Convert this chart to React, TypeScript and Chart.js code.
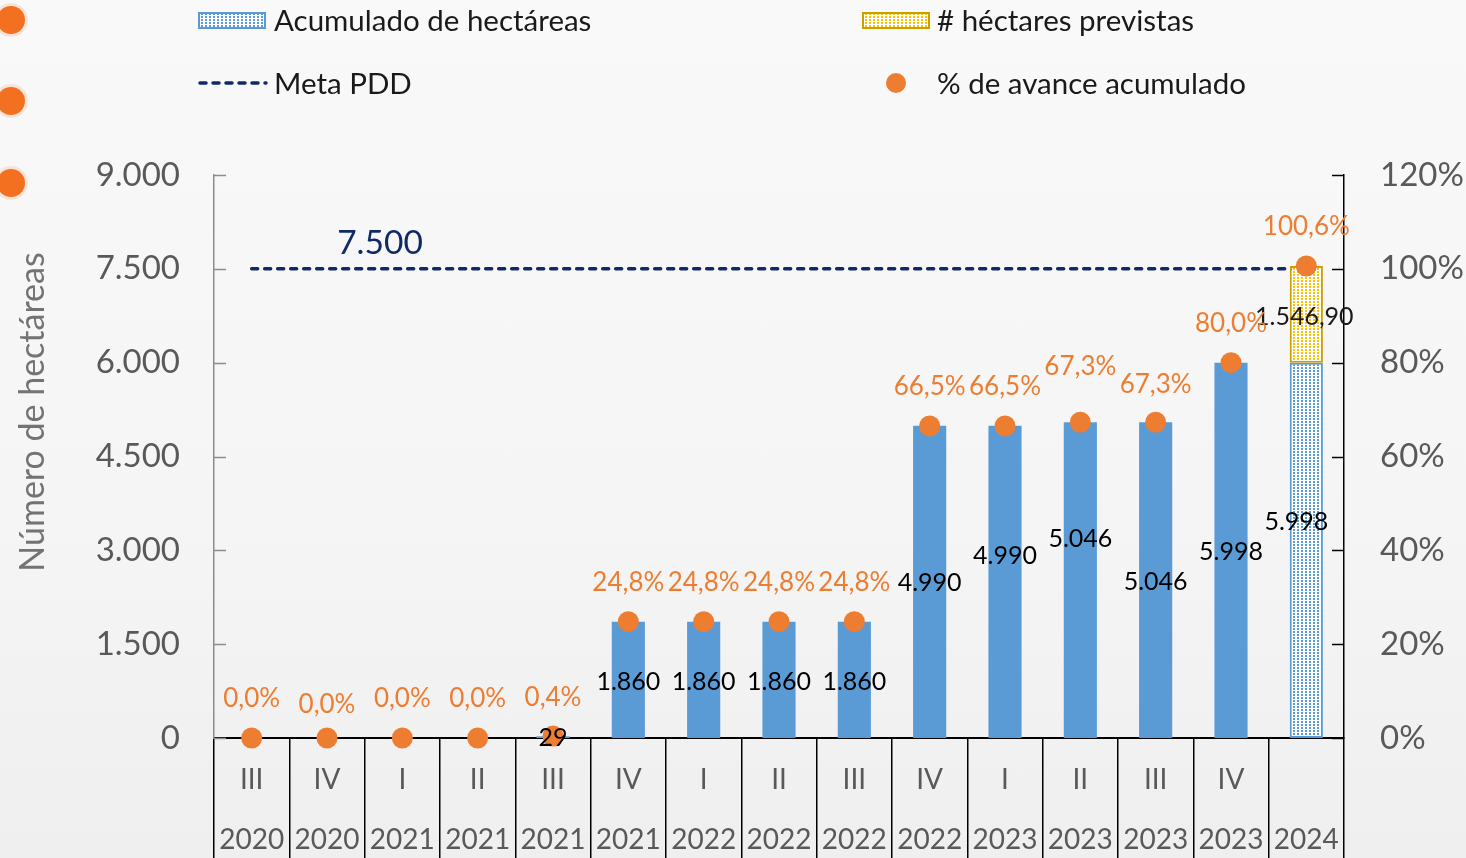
import React, { useEffect, useRef } from 'react';
import { Chart, registerables } from 'chart.js';

Chart.register(...registerables);

// ---------- data ----------
const quarters = ['III', 'IV', 'I', 'II', 'III', 'IV', 'I', 'II', 'III', 'IV', 'I', 'II', 'III', 'IV', ''];
const years = ['2020', '2020', '2021', '2021', '2021', '2021', '2022', '2022', '2022', '2022', '2023', '2023', '2023', '2023', '2024'];
const hectareas = [0, 0, 0, 0, 29, 1860, 1860, 1860, 1860, 4990, 4990, 5046, 5046, 5998, 5998];
const previstas = [null, null, null, null, null, null, null, null, null, null, null, null, null, null, 1546.9];
const avance = [0, 0, 0, 0, 0.4, 24.8, 24.8, 24.8, 24.8, 66.5, 66.5, 67.3, 67.3, 80.0, 100.6];
const metaPDD = [7500, 7500, 7500, 7500, 7500, 7500, 7500, 7500, 7500, 7500, 7500, 7500, 7500, 7500, 7500];
const leftTicks = [0, 1500, 3000, 4500, 6000, 7500, 9000];
const rightTicks = [0, 20, 40, 60, 80, 100, 120];

// label nudges (pixels) for the data labels, as placed in the original
const barLabelDy = [0, 0, 0, 0, 2, 60, 60, 60, 60, 157, 130, 117, 160, 189, 159];
const barLabelDx = [0, 0, 0, 0, 0, 0, 0, 0, 0, 0, 0, 0, 0, 0, -10];
const pctLabelDy = [-39, -33, -39, -39, -39, -39, -39, -39, -39, -39, -39, -56, -38, -39, -39];

const FONT = 'Lato, "Open Sans", sans-serif';
const BLUE = '#5B9BD5';
const ORANGE = '#ED7D31';
const NAVY = '#0F2A66';
const GOLD = '#C9A000';
const YELLOW = '#FFC000';
const GRAY = '#595959';

function fmtThousands(v: number): string {
  const s = Math.round(v).toString();
  return s.replace(/\B(?=(\d{3})+(?!\d))/g, '.');
}
function fmtDec2(v: number): string {
  const int = Math.floor(v);
  const dec = Math.round((v - int) * 100).toString().padStart(2, '0');
  return fmtThousands(int) + ',' + dec;
}
function fmtPct(v: number): string {
  return v.toFixed(1).replace('.', ',') + '%';
}

function makePattern(ctx: CanvasRenderingContext2D, color: string): CanvasPattern {
  const tile = document.createElement('canvas');
  tile.width = 4;
  tile.height = 3;
  const t = tile.getContext('2d')!;
  t.fillStyle = '#ffffff';
  t.fillRect(0, 0, 4, 3);
  t.fillStyle = color;
  t.fillRect(1, 1, 2, 2);
  return ctx.createPattern(tile, 'repeat')!;
}

export default function App() {
  const ref = useRef<HTMLCanvasElement | null>(null);

  useEffect(() => {
    const canvas = ref.current!;
    const ctx0 = canvas.getContext('2d')!;
    const bluePat = makePattern(ctx0, BLUE);
    const yellowPat = makePattern(ctx0, YELLOW);

    const overlay = {
      id: 'overlay',
      afterDraw(chart: any) {
        const ctx: CanvasRenderingContext2D = chart.ctx;
        const xs = chart.scales.x;
        const ys = chart.scales.y;
        const ys1 = chart.scales.y1;
        const { left, right, bottom } = chart.chartArea;
        ctx.save();

        // tick marks (inside)
        ctx.lineWidth = 1.5;
        ctx.strokeStyle = '#8c8c8c';
        leftTicks.forEach((v) => {
          const y = Math.round(ys.getPixelForValue(v)) + 0.5;
          ctx.beginPath();
          ctx.moveTo(left, y);
          ctx.lineTo(left + 12, y);
          ctx.stroke();
        });
        ctx.strokeStyle = '#000';
        rightTicks.forEach((v) => {
          const y = Math.round(ys1.getPixelForValue(v)) + 0.5;
          ctx.beginPath();
          ctx.moveTo(right - 12, y);
          ctx.lineTo(right, y);
          ctx.stroke();
        });

        // x labels (two rows)
        ctx.fillStyle = GRAY;
        ctx.font = `28px ${FONT}`;
        ctx.textAlign = 'center';
        ctx.textBaseline = 'middle';
        quarters.forEach((q, i) => {
          const x = xs.getPixelForValue(i);
          ctx.fillText(q, x, bottom + 42);
          ctx.fillText(years[i], x, bottom + 102);
        });

        // y axis title
        ctx.save();
        ctx.translate(33, 412);
        ctx.rotate(-Math.PI / 2);
        ctx.fillStyle = '#737373';
        ctx.font = `34px ${FONT}`;
        ctx.fillText('Número de hectáreas', 0, 0);
        ctx.restore();

        // meta label
        ctx.fillStyle = NAVY;
        ctx.font = `33.5px ${FONT}`;
        ctx.fillText('7.500', xs.getPixelForValue(1) + 53, ys.getPixelForValue(metaPDD[1]) - 26);

        // bar labels
        const barMeta = chart.getDatasetMeta(0);
        ctx.font = `25px ${FONT}`;
        ctx.fillStyle = '#000';
        hectareas.forEach((v, i) => {
          if (!v) return;
          const el = barMeta.data[i];
          ctx.fillText(fmtThousands(v), el.x + barLabelDx[i], ys.getPixelForValue(v) + barLabelDy[i]);
        });
        const prevMeta = chart.getDatasetMeta(1);
        previstas.forEach((v, i) => {
          if (v == null) return;
          const el = prevMeta.data[i];
          ctx.fillStyle = '#1a1a1a';
          ctx.fillText(fmtDec2(v), el.x - 2, (el.y + el.base) / 2 + 3);
        });

        // percent labels
        const pMeta = chart.getDatasetMeta(3);
        ctx.fillStyle = ORANGE;
        ctx.font = `26px ${FONT}`;
        avance.forEach((v, i) => {
          const el = pMeta.data[i];
          ctx.fillText(fmtPct(v), el.x, el.y + pctLabelDy[i]);
        });

        // legend
        ctx.textAlign = 'left';
        ctx.font = `29.5px ${FONT}`;
        // blue swatch
        ctx.fillStyle = bluePat;
        ctx.fillRect(198, 12, 68, 17);
        ctx.strokeStyle = BLUE;
        ctx.lineWidth = 2;
        ctx.strokeRect(199, 13, 66, 15);
        ctx.fillStyle = '#1a1a1a';
        ctx.fillText('Acumulado de hectáreas', 274, 21);
        // dashed
        ctx.strokeStyle = NAVY;
        ctx.lineWidth = 3.5;
        ctx.setLineDash([6, 7]);
        ctx.lineCap = 'round';
        ctx.beginPath();
        ctx.moveTo(200, 83);
        ctx.lineTo(266, 83);
        ctx.stroke();
        ctx.setLineDash([]);
        ctx.lineCap = 'butt';
        ctx.fillText('Meta PDD', 274, 84);
        // yellow swatch
        ctx.fillStyle = yellowPat;
        ctx.fillRect(862, 12, 68, 17);
        ctx.strokeStyle = GOLD;
        ctx.lineWidth = 2;
        ctx.strokeRect(863, 13, 66, 15);
        ctx.fillStyle = '#1a1a1a';
        ctx.fillText('# héctares previstas', 937, 21);
        // orange dot
        ctx.fillStyle = ORANGE;
        ctx.beginPath();
        ctx.arc(896, 83, 10, 0, Math.PI * 2);
        ctx.fill();
        ctx.fillStyle = '#1a1a1a';
        ctx.fillText('% de avance acumulado', 937, 84);

        // decorative circles at the left edge
        [20, 101, 183].forEach((cy) => {
          ctx.fillStyle = 'rgba(243,112,33,0.15)';
          ctx.beginPath();
          ctx.arc(11, cy, 17, 0, Math.PI * 2);
          ctx.fill();
          ctx.fillStyle = '#F37021';
          ctx.beginPath();
          ctx.arc(11, cy, 14, 0, Math.PI * 2);
          ctx.fill();
        });

        ctx.restore();
      },
    };

    const chart = new Chart(canvas, {
      type: 'bar',
      data: {
        labels: years.map((y, i) => [quarters[i], y]),
        datasets: [
          {
            type: 'bar',
            label: 'Acumulado de hectáreas',
            data: hectareas,
            stack: 'a',
            order: 1,
            backgroundColor: hectareas.map((_, i) => (i === hectareas.length - 1 ? bluePat : BLUE)),
            borderColor: BLUE,
            borderWidth: hectareas.map((_, i) => (i === hectareas.length - 1 ? 2 : 0)),
            borderSkipped: false,
            barPercentage: 0.44,
            categoryPercentage: 1,
            yAxisID: 'y',
          },
          {
            type: 'bar',
            label: '# héctares previstas',
            data: previstas,
            stack: 'a',
            order: 2,
            backgroundColor: yellowPat,
            borderColor: GOLD,
            borderWidth: 2,
            borderSkipped: false,
            barPercentage: 0.44,
            categoryPercentage: 1,
            yAxisID: 'y',
          },
          {
            type: 'line',
            label: 'Meta PDD',
            data: metaPDD,
            order: 3,
            borderColor: NAVY,
            borderWidth: 3.5,
            borderDash: [6, 7],
            borderCapStyle: 'round',
            pointRadius: 0,
            fill: false,
            yAxisID: 'y',
          },
          {
            type: 'line',
            label: '% de avance acumulado',
            data: avance,
            order: 0,
            showLine: false,
            clip: false,
            pointRadius: 10.5,
            pointBackgroundColor: ORANGE,
            pointBorderWidth: 0,
            borderColor: ORANGE,
            yAxisID: 'y1',
          },
        ],
      } as any,
      options: {
        animation: false,
        responsive: false,
        devicePixelRatio: 1,
        layout: { padding: { top: 175, left: 0, right: 0, bottom: 0 } },
        plugins: { legend: { display: false }, tooltip: { enabled: false } },
        scales: {
          x: {
            type: 'category',
            offset: true,
            grid: { offset: true, drawOnChartArea: false, drawTicks: true, tickLength: 120, color: '#000', lineWidth: 1.5 },
            border: { color: '#000', width: 2 },
            ticks: { display: false },
            afterFit: (s: any) => { s.height = 120; },
          },
          y: {
            position: 'left',
            min: 0,
            max: 9000,
            grid: { display: false, drawTicks: false },
            border: { color: '#8c8c8c', width: 1.5 },
            ticks: {
              stepSize: 1500,
              padding: 34,
              color: GRAY,
              font: { family: FONT, size: 33 },
              callback: (v: any) => fmtThousands(Number(v)),
            },
            afterFit: (s: any) => { s.width = 214; },
          },
          y1: {
            position: 'right',
            min: 0,
            max: 120,
            grid: { display: false, drawTicks: false },
            border: { color: '#000', width: 1.5 },
            ticks: {
              stepSize: 20,
              padding: 36,
              color: GRAY,
              font: { family: FONT, size: 33 },
              callback: (v: any) => v + '%',
            },
            afterFit: (s: any) => { s.width = 122; },
          },
        },
      } as any,
      plugins: [overlay],
    });
    return () => chart.destroy();
  }, []);

  return (
    <div
      style={{
        position: 'fixed',
        left: 0,
        top: 0,
        width: 1466,
        height: 858,
        overflow: 'hidden',
        background: 'linear-gradient(180deg, #f9f9f9 0%, #f5f5f5 60%, #efefef 100%)',
      }}
    >
      <canvas ref={ref} width={1466} height={858} style={{ display: 'block' }} />
    </div>
  );
}
